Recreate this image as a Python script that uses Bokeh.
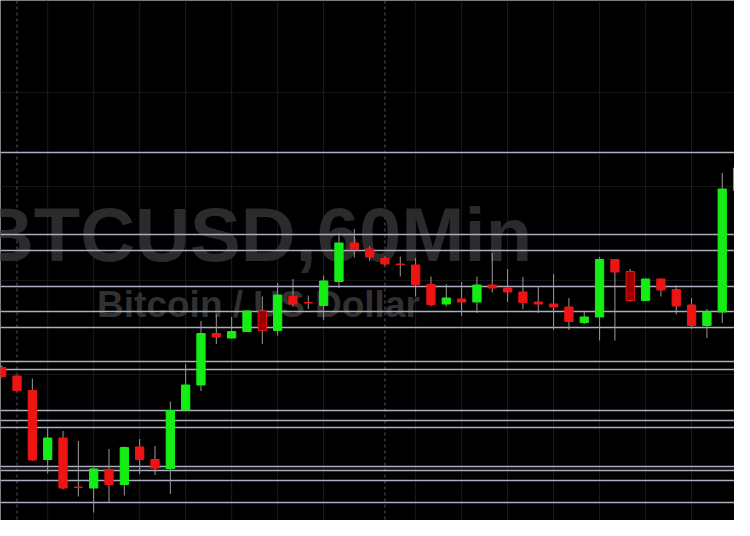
from bokeh.plotting import figure
from bokeh.models import Range1d, Span, Label, ColumnDataSource
from bokeh.embed import file_html
from bokeh.resources import INLINE

# ---- data (hourly candles) ----
opens  = [9266, 9249, 9220, 9082, 9125, 9027, 9025, 9062, 9032, 9107,
          9082, 9064, 9181, 9231, 9334, 9325, 9338, 9379, 9340, 9409,
          9396, 9390, 9438, 9515, 9503, 9484, 9473, 9471, 9432, 9393,
          9403, 9397, 9431, 9425, 9417, 9397, 9393, 9387, 9356, 9367,
          9482, 9458, 9400, 9443, 9422, 9391, 9350, 9377, 9620, 9667]
highs  = [9270, 9250, 9244, 9146, 9139, 9119, 9066, 9103, 9108, 9123,
          9109, 9198, 9273, 9359, 9373, 9367, 9380, 9408, 9435, 9443,
          9410, 9450, 9535, 9543, 9508, 9488, 9488, 9485, 9448, 9433,
          9437, 9448, 9495, 9463, 9447, 9429, 9453, 9405, 9377, 9487,
          9482, 9463, 9444, 9444, 9430, 9405, 9383, 9655, 9666, 9700]
lows   = [9246, 9218, 9079, 9054, 9022, 9008, 8976, 8997, 9010, 9053,
          9051, 9013, 9180, 9219, 9313, 9324, 9337, 9313, 9330, 9388,
          9383, 9361, 9425, 9486, 9479, 9470, 9448, 9408, 9389, 9388,
          9369, 9375, 9416, 9397, 9383, 9375, 9341, 9341, 9353, 9320,
          9320, 9397, 9400, 9408, 9372, 9343, 9325, 9355, 9583, 9666]
closes = [9248, 9220, 9081, 9125, 9025, 9026, 9063, 9032, 9106, 9082,
          9065, 9180, 9231, 9334, 9327, 9338, 9379, 9340, 9411, 9393,
          9395, 9439, 9515, 9502, 9487, 9473, 9472, 9432, 9392, 9405,
          9397, 9431, 9425, 9417, 9396, 9393, 9387, 9358, 9367, 9482,
          9457, 9400, 9443, 9421, 9389, 9350, 9377, 9623, 9665, 9693]
dark_bodies = [17, 41]

# horizontal support / resistance levels
levels = [9696, 9532, 9500, 9428, 9378, 9346, 9278, 9262, 9180, 9160,
          9146, 9068, 9060, 9040, 8996]
# faint price grid
price_grid = [9816, 9628, 9440, 9252, 9064]
# time grid (every 3 hours) and day separators
hour_grid = [3, 6, 9, 12, 15, 18, 21, 27, 30, 33, 36, 39, 42, 45, 48]
day_breaks = [1, 25]

title_text = "BTCUSD,60Min"
subtitle_text = "Bitcoin / US Dollar"

GREEN = "#14ee14"
RED = "#ee1414"
DARK_RED = "#9a0000"

n = len(opens)
idx = list(range(n))
tops = [max(o, c) for o, c in zip(opens, closes)]
bots = [min(o, c) for o, c in zip(opens, closes)]
fills, lines = [], []
for i in idx:
    if i in dark_bodies:
        fills.append(DARK_RED); lines.append(RED)
    elif closes[i] > opens[i]:
        fills.append(GREEN); lines.append(GREEN)
    else:
        fills.append(RED); lines.append(RED)

src = ColumnDataSource(dict(x=idx, o=opens, h=highs, l=lows, c=closes,
                            top=tops, bot=bots, fill=fills, line=lines))

p = figure(width=734, height=520, output_backend="svg", toolbar_location=None,
           x_range=Range1d(-0.078, 47.80), y_range=Range1d(8960, 10000),
           x_axis_location=None, y_axis_location=None, min_border=0)
p.background_fill_color = "#000000"
p.border_fill_color = "#000000"
p.outline_line_color = None
p.xgrid.visible = False
p.ygrid.visible = False

for y in price_grid:
    p.add_layout(Span(location=y, dimension="width", line_color="#161616",
                      line_width=1, level="image"))
for x in hour_grid:
    p.add_layout(Span(location=x, dimension="height", line_color="#1c1c1c",
                      line_width=1, level="image"))
for x in day_breaks:
    p.add_layout(Span(location=x, dimension="height", line_color="#5a5a5a",
                      line_width=1, line_dash="3 3", level="image"))

p.add_layout(Label(x=255, y=286, x_units="screen", y_units="screen",
                   text=title_text, text_align="center", text_baseline="middle",
                   text_font="Liberation Sans", text_font_style="bold",
                   text_font_size="76px", text_color="#2b2b2b", level="image"))
p.add_layout(Label(x=258, y=216, x_units="screen", y_units="screen",
                   text=subtitle_text, text_align="center", text_baseline="middle",
                   text_font="Liberation Sans", text_font_style="bold",
                   text_font_size="37px", text_color="#313131", level="image"))

for y in levels:
    p.add_layout(Span(location=y, dimension="width", line_color="#adafc0",
                      line_width=1.3, level="underlay"))

p.segment(x0="x", y0="l", x1="x", y1="h", source=src, line_color="#9a9a9a",
          line_width=1)
p.vbar(x="x", width=0.54, top="top", bottom="bot", source=src,
       fill_color="fill", line_color="line", line_width=1)

open("out.html", "w").write(file_html(p, INLINE))
